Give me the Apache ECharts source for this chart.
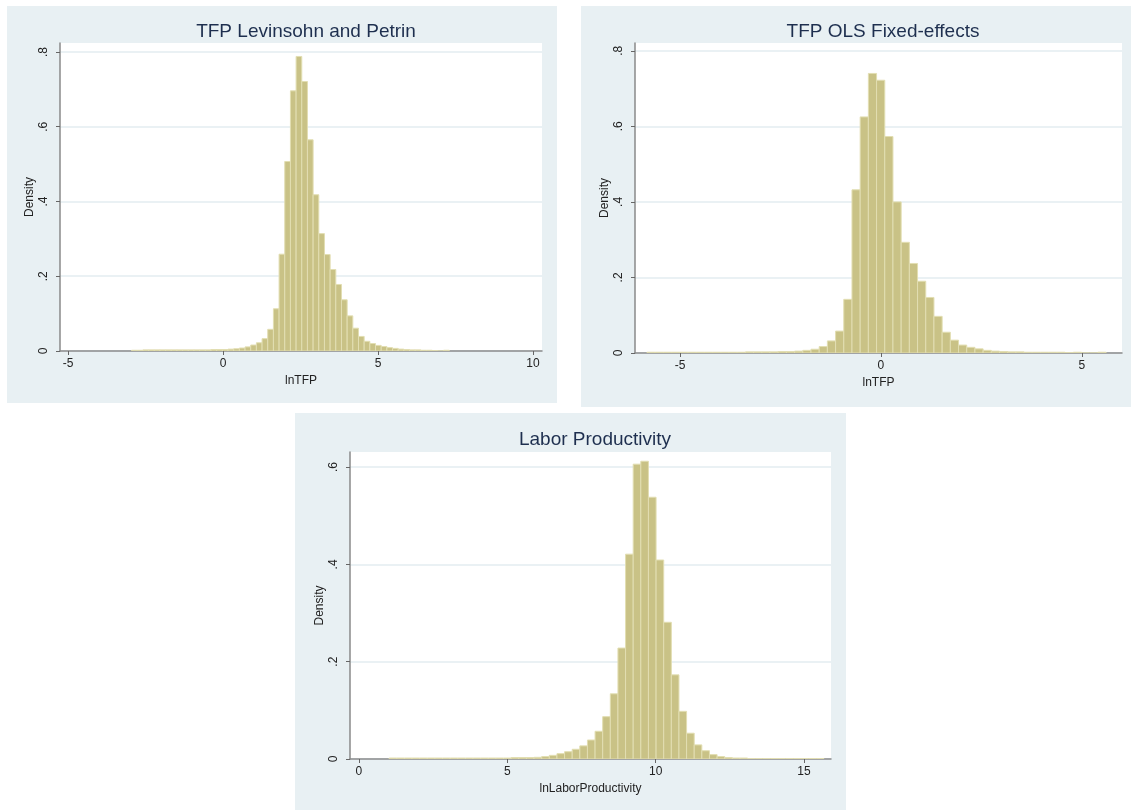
<!DOCTYPE html>
<html>
<head>
<meta charset="utf-8">
<script src="https://cdn.jsdelivr.net/npm/echarts@6.0.0/dist/echarts.min.js"></script>
<style>
  html, body { margin: 0; padding: 0; background: #fff; }
  body { width: 1131px; height: 810px; position: relative; overflow: hidden; }
  .panel { position: absolute; background: #e8f0f3; }
</style>
</head>
<body>
<div id="lpChart" class="panel" style="left:7px;top:6px;width:550px;height:397px"></div>
<div id="olsChart" class="panel" style="left:581px;top:6px;width:550px;height:401px"></div>
<div id="laborChart" class="panel" style="left:295px;top:413px;width:551px;height:397px"></div>
<script>
// histogram bins: first bin start, bin width, density per bin
const lpStart = -2.95;
const lpWidth = 0.183;
const lpDensity = [
  0.002, 0.002, 0.003, 0.003, 0.003, 0.003, 0.003, 0.003, 0.003, 0.003,
  0.003, 0.003, 0.003, 0.003, 0.004, 0.004, 0.004, 0.005, 0.006, 0.008,
  0.011, 0.016, 0.022, 0.033, 0.058, 0.113, 0.259, 0.507, 0.696, 0.788,
  0.721, 0.565, 0.418, 0.314, 0.258, 0.218, 0.178, 0.137, 0.094, 0.061,
  0.039, 0.026, 0.020, 0.015, 0.012, 0.009, 0.007, 0.005, 0.004, 0.003,
  0.003, 0.002, 0.002, 0.001, 0.000, 0.002
];

const olsStart = -5.82;
const olsWidth = 0.204;
const olsDensity = [
  0.002, 0.002, 0.002, 0.002, 0.002, 0.002, 0.002, 0.002, 0.002, 0.002,
  0.002, 0.002, 0.003, 0.003, 0.003, 0.003, 0.004, 0.004, 0.005, 0.007,
  0.010, 0.017, 0.032, 0.058, 0.142, 0.432, 0.625, 0.740, 0.722, 0.573,
  0.400, 0.293, 0.237, 0.190, 0.147, 0.097, 0.055, 0.034, 0.021, 0.015,
  0.011, 0.007, 0.005, 0.004, 0.003, 0.003, 0.002, 0.002, 0.002, 0.002,
  0.002, 0.001, 0.002, 0.000, 0.000, 0.002
];

const laborStart = 1.02;
const laborWidth = 0.257;
const laborDensity = [
  0.002, 0.002, 0.002, 0.002, 0.002, 0.002, 0.002, 0.002, 0.002, 0.002,
  0.002, 0.002, 0.002, 0.002, 0.002, 0.002, 0.003, 0.003, 0.003, 0.0035,
  0.005, 0.0075, 0.011, 0.015, 0.020, 0.027, 0.039, 0.057, 0.087, 0.134,
  0.228, 0.421, 0.606, 0.612, 0.538, 0.409, 0.281, 0.173, 0.098, 0.053,
  0.029, 0.017, 0.009, 0.005, 0.003, 0.002, 0.002, 0.001, 0.001, 0.001,
  0.001, 0.001, 0.001, 0.001, 0.001, 0.001, 0.001
];

const lpTicks = [-5, 0, 5, 10];
const olsTicks = [-5, 0, 5];
const laborTicks = [0, 5, 10, 15];
const densityTicks8 = [0, 0.2, 0.4, 0.6, 0.8];
const densityTicks6 = [0, 0.2, 0.4, 0.6];

const FONT = '"Liberation Sans", Arial, sans-serif';

function bins(start, width, dens) {
  return dens.map((d, i) => [start + i * width, start + (i + 1) * width, d]);
}

function densLabel(v) {
  if (v === 0) return '0';
  return String(+v.toFixed(1)).replace(/^0\./, '.');
}

function makeOption(cfg) {
  return {
    animation: false,
    title: {
      text: cfg.title,
      left: cfg.titleX,
      top: cfg.titleY,
      textAlign: 'center',
      textStyle: { fontFamily: FONT, fontSize: 19, fontWeight: 'normal', color: '#1e2f4f' }
    },
    grid: {
      left: cfg.grid[0], top: cfg.grid[1], width: cfg.grid[2], height: cfg.grid[3],
      show: true, backgroundColor: '#ffffff', borderWidth: 0
    },
    xAxis: {
      type: 'value',
      min: cfg.xMin, max: cfg.xMax,
      name: cfg.xName,
      nameLocation: 'middle',
      nameGap: 20,
      nameTextStyle: { fontFamily: FONT, fontSize: 12, color: '#222' },
      axisLine: { onZero: false, lineStyle: { color: '#8a8a8a', width: 1.5 } },
      axisTick: { show: true, length: 4, customValues: cfg.xTicks, lineStyle: { color: '#666' } },
      axisLabel: { customValues: cfg.xTicks, margin: 7, fontFamily: FONT, fontSize: 12, color: '#222' },
      splitLine: { show: false }
    },
    yAxis: {
      type: 'value',
      min: 0, max: cfg.yMax,
      name: 'Density',
      nameLocation: 'middle',
      nameGap: 24,
      nameMoveOverlap: false,
      nameTextStyle: { fontFamily: FONT, fontSize: 12, color: '#222' },
      axisLine: { show: true, onZero: false, lineStyle: { color: '#8a8a8a', width: 1.5 } },
      axisTick: { show: true, length: 4, customValues: cfg.yTicks, lineStyle: { color: '#666' } },
      axisLabel: {
        customValues: cfg.yTicks, rotate: 90, margin: 10,
        fontFamily: FONT, fontSize: 12, color: '#222',
        formatter: densLabel
      },
      splitLine: { show: true, lineStyle: { color: '#e3edf0', width: 1.5 } }
    },
    series: [{
      type: 'custom',
      clip: true,
      encode: { x: [0, 1], y: 2 },
      data: bins(cfg.start, cfg.width, cfg.dens),
      renderItem: function (params, api) {
        const a = api.coord([api.value(0), api.value(2)]);
        const b = api.coord([api.value(1), 0]);
        return {
          type: 'rect',
          shape: { x: a[0], y: a[1], width: b[0] - a[0], height: b[1] - a[1] },
          style: { fill: '#c9c286', stroke: '#e2deb2', lineWidth: 1 }
        };
      }
    }]
  };
}

const panels = [
  {
    id: 'lpChart', title: 'TFP Levinsohn and Petrin', titleX: 294, titleY: 11,
    grid: [53, 37, 482, 308], xMin: -5.26, xMax: 10.29, yMax: 0.824,
    xName: 'lnTFP', xTicks: lpTicks, yTicks: densityTicks8,
    start: lpStart, width: lpWidth, dens: lpDensity
  },
  {
    id: 'olsChart', title: 'TFP OLS Fixed-effects', titleX: 297, titleY: 11,
    grid: [54, 37, 487, 310], xMin: -6.12, xMax: 6.0, yMax: 0.8206,
    xName: 'lnTFP', xTicks: olsTicks, yTicks: densityTicks8,
    start: olsStart, width: olsWidth, dens: olsDensity
  },
  {
    id: 'laborChart', title: 'Labor Productivity', titleX: 295, titleY: 12,
    grid: [55, 39, 481, 307], xMin: -0.30, xMax: 15.91, yMax: 0.631,
    xName: 'lnLaborProductivity', xTicks: laborTicks, yTicks: densityTicks6,
    start: laborStart, width: laborWidth, dens: laborDensity
  }
];

panels.forEach((p) => {
  const chart = echarts.init(document.getElementById(p.id), null, { renderer: 'canvas' });
  chart.setOption(makeOption(p));
});
</script>
</body>
</html>
